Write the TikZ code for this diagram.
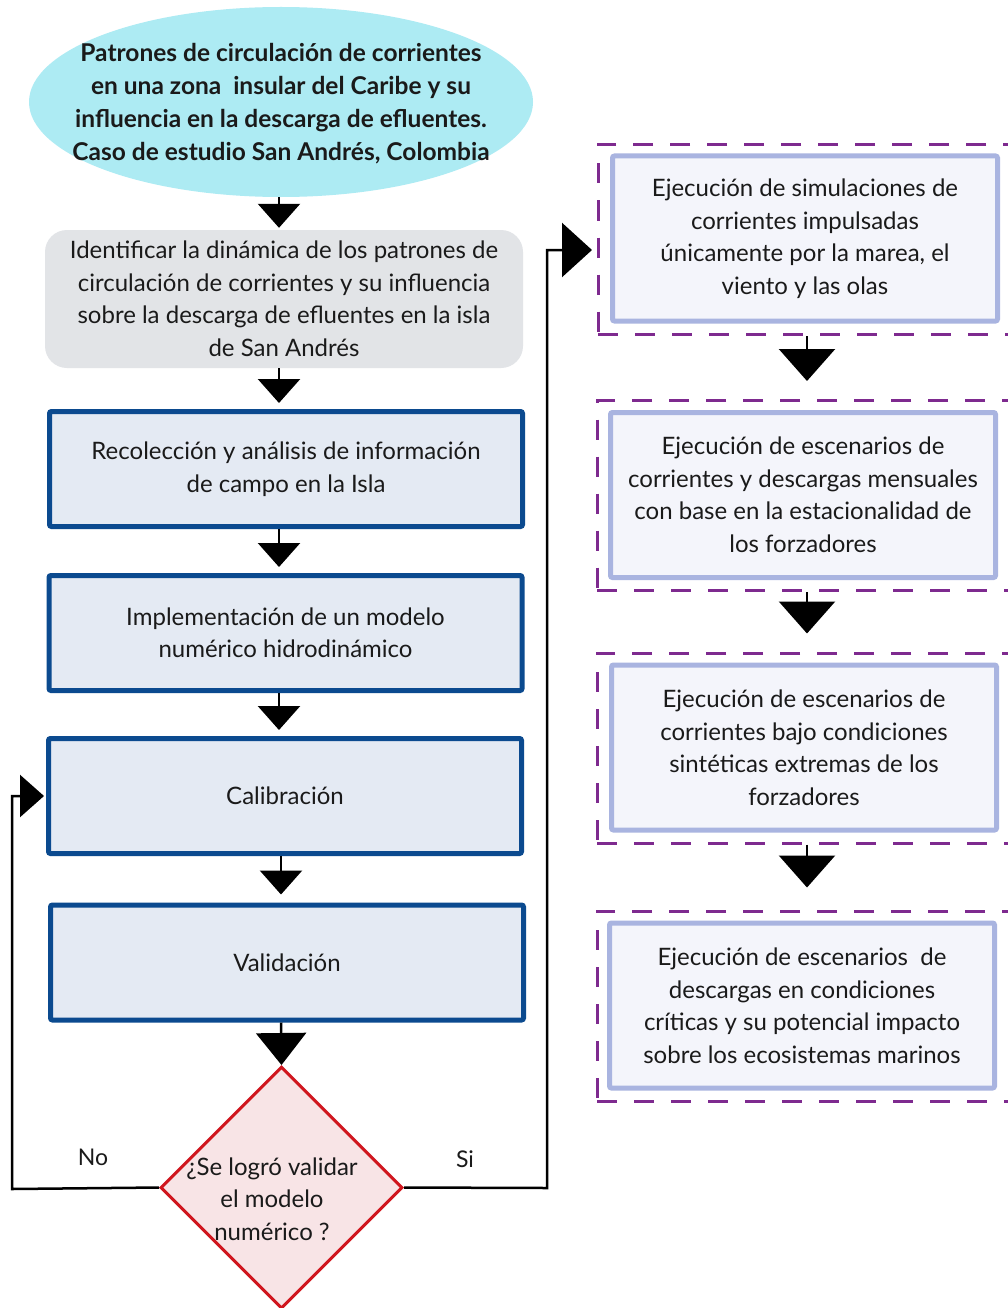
\documentclass[tikz,border=0pt]{standalone}
\usepackage{fontspec}
\setmainfont{Lato}
\usetikzlibrary{shapes.geometric,arrows.meta,calc}
\definecolor{titlecol}{HTML}{ADEBF3}
\definecolor{goalgray}{HTML}{E2E4E7}
\definecolor{blueb}{HTML}{0B4A8F}
\definecolor{bluef}{HTML}{E4EAF3}
\definecolor{lavb}{HTML}{A9B4E0}
\definecolor{lavf}{HTML}{F4F5FB}
\definecolor{purp}{HTML}{7E2A8F}
\definecolor{redb}{HTML}{D0161E}
\definecolor{redf}{HTML}{F8E4E6}
\definecolor{txt}{HTML}{1A1A1A}
\begin{document}
\begin{tikzpicture}[x=1pt,y=-1pt,
  every node/.style={text=txt, font=\fontsize{24}{32.5}\selectfont, align=center},
  bluebox/.style={draw=blueb, line width=5pt, fill=bluef, rounded corners=2pt, minimum width=473pt, minimum height=115pt, inner sep=0pt},
  lavbox/.style={draw=lavb, line width=5pt, fill=lavf, rounded corners=2pt, minimum width=385pt, minimum height=165pt, inner sep=0pt},
  dashbox/.style={draw=purp, line width=3pt, dash pattern=on 20pt off 17pt, minimum width=432pt, minimum height=190pt, inner sep=0pt},
  conn/.style={draw=black, line width=2.5pt},
  arrL/.style={conn, -{Triangle[width=42pt,length=24pt]}},
  arrB/.style={conn, -{Triangle[width=50pt,length=32pt]}},
  arrR/.style={conn, -{Triangle[width=56pt,length=32pt]}},
  lbl/.style={font=\fontsize{23}{26}\selectfont}
]
\useasboundingbox (0,0) rectangle (1007,1308);
\fill[white] (0,0) rectangle (1007,1308);

% left column
\node[ellipse, fill=titlecol, minimum width=504pt, minimum height=190pt, inner sep=0pt] (title) at (281,102) {};
\node[font=\bfseries\fontsize{24.5}{33}\selectfont] (titletext) at (281,104)
  {Patrones de circulación de corrientes\\en una zona\ \ insular del Caribe y su\\influencia en la descarga de efluentes.\\Caso de estudio San Andrés, Colombia};

\node[fill=goalgray, rounded corners=22pt, minimum width=478pt, minimum height=138pt, inner sep=0pt] (goal) at (284,299)
  {Identificar la dinámica de los patrones de\\circulación de corrientes y su influencia\\sobre la descarga de efluentes en la isla\\de San Andrés};

\node[bluebox] (r1) at (286,469) {Recolección y análisis de información\\de campo en la Isla};
\node[bluebox] (r2) at (285.5,633) {Implementación de un modelo\\numérico hidrodinámico};
\node[bluebox] (r3) at (285,796) {Calibración};
\node[bluebox] (r4) at (287,962.5) {Validación};

\node[diamond, draw=redb, line width=3pt, fill=redf, minimum width=242pt, minimum height=242pt, inner sep=0pt] (dia) at (281.5,1187.5) {};
\node (diatext) at (272,1199) {¿Se logró validar\\el modelo\\numérico ?};

\node[lbl] (no) at (93,1157) {No};
\node[lbl] (si) at (465,1159) {Si};

% right column
\node[dashbox] (d1) at (814,239.5) {};
\node[dashbox] (d2) at (813,495.5) {};
\node[dashbox] (d3) at (813,748) {};
\node[dashbox] (d4) at (813,1006) {};

\node[lavbox] (b1) at (805,238.5) {Ejecución de simulaciones de\\corrientes impulsadas\\únicamente por la marea, el\\viento y las olas};
\node[lavbox] (b2) at (803,495) {Ejecución de escenarios de\\corrientes y descargas mensuales\\con base en la estacionalidad de\\los forzadores};
\node[lavbox] (b3) at (804,747.5) {Ejecución de escenarios de\\corrientes bajo condiciones\\sintéticas extremas de los\\forzadores};
\node[lavbox] (b4) at (802,1005.5) {Ejecución de escenarios\ \ de\\descargas en condiciones\\críticas y su potencial impacto\\sobre los ecosistemas marinos};

% axes for vertical arrows
\coordinate (axL) at (279,0);
\coordinate (axL2) at (281,0);
\coordinate (axR) at (807,0);

\draw[arrL, shorten >=2pt] (title.south -| axL) -- (goal.north -| axL);
\draw[arrL, shorten >=6pt] (goal.south -| axL) -- (r1.north -| axL);
\draw[arrL, shorten >=6pt] (r1.south -| axL) -- (r2.north -| axL);
\draw[arrL, shorten >=6pt] (r2.south -| axL) -- (r3.north -| axL);
\draw[arrL, shorten >=8pt] (r3.south -| axL2) -- (r4.north -| axL2);
\draw[arrB] (r4.south -| axL2) -- (dia.north);

\draw[arrR, shorten >=18pt] (d1.south -| axR) -- (d2.north -| axR);
\draw[arrR, shorten >=18pt] (d2.south -| axR) -- (d3.north -| axR);
\draw[arrR, shorten >=22pt] (d3.south -| axR) -- (d4.north -| axR);

% loops
\coordinate (nocorner) at (12,1189);
\draw[arrL, shorten >=2pt] (dia.west) -- (nocorner) |- (r3.west);
\coordinate (sicorner) at (547,1188);
\coordinate (siend) at (592,250);
\draw[conn, -{Triangle[width=54pt,length=30pt]}] (dia.east) -- (sicorner) |- (siend);
\end{tikzpicture}
\end{document}
